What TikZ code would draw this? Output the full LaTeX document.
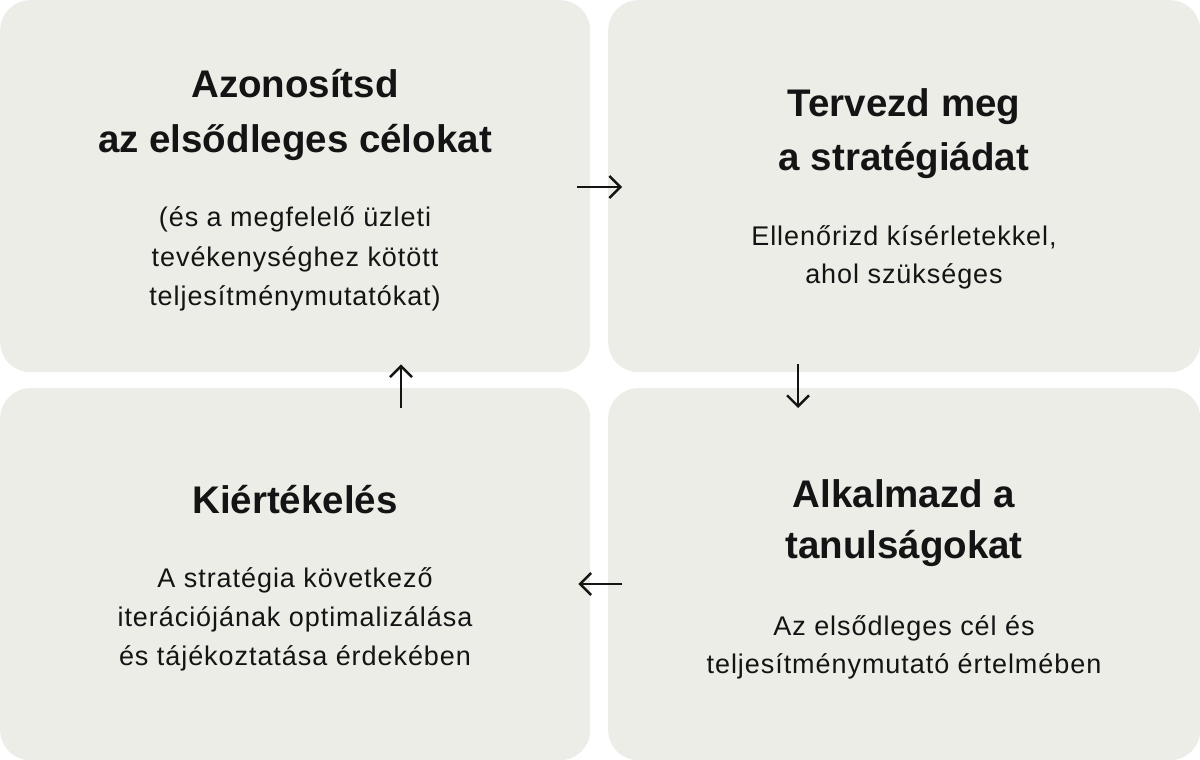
\documentclass[tikz,border=0pt]{standalone}
\usepackage{fontspec}
\setmainfont{Liberation Sans}
\newfontfamily\bodyfont[LetterSpace=3.5]{Liberation Sans}
\usetikzlibrary{arrows.meta,calc}
\definecolor{boxfill}{RGB}{237,237,232}
\definecolor{ink}{RGB}{20,20,20}
\tikzset{
  box/.style={fill=boxfill, draw=none, rounded corners=30pt, minimum width=590pt, minimum height=372pt, inner sep=0pt, anchor=north west},
  boxr/.style={box, minimum width=592pt},
  ttl/.style={anchor=base, inner sep=0pt, text=ink, font=\fontsize{38.5}{46}\selectfont\bfseries},
  bdy/.style={anchor=base, inner sep=0pt, text=ink, font=\bodyfont\fontsize{27}{32}\selectfont},
  arr/.style={draw=ink, line width=2.4pt, -{Straight Barb[length=11pt,width=22pt,line width=2.4pt]}},
}
\begin{document}
\begin{tikzpicture}[x=1pt,y=-1pt]
\useasboundingbox (0,0) rectangle (1200,760);
% boxes
\node[box] (tl) at (0,0) {};
\node[boxr] (tr) at (608,0) {};
\node[box] (bl) at (0,388) {};
\node[boxr] (br) at (608,388) {};
% top-left
\node[ttl] (tl1) at (295,97) {Azonosítsd};
\node[ttl] (tl2) at (295,152) {az elsődleges célokat};
\node[bdy] (tlb1) at (295,226) {(és a megfelelő üzleti};
\node[bdy] (tlb2) at (295,266) {tevékenységhez kötött};
\node[bdy] (tlb3) at (295,305) {teljesítménymutatókat)};
% top-right
\node[ttl] (tr1) at (904,117) {Tervezd meg};
\node[ttl] (tr2) at (904,170) {a stratégiádat};
\node[bdy] (trb1) at (904,245) {Ellenőrizd kísérletekkel,};
\node[bdy] (trb2) at (904,283) {ahol szükséges};
% bottom-right
\node[ttl] (br1) at (904,507) {Alkalmazd a};
\node[ttl] (br2) at (904,558) {tanulságokat};
\node[bdy] (brb1) at (904,635) {Az elsődleges cél és};
\node[bdy] (brb2) at (904,673) {teljesítménymutató értelmében};
% bottom-left
\node[ttl] (bl1) at (295,513) {Kiértékelés};
\node[bdy] (blb1) at (295,587) {A stratégia következő};
\node[bdy] (blb2) at (295,626) {iterációjának optimalizálása};
\node[bdy] (blb3) at (295,665) {és tájékoztatása érdekében};
% connector end points
\coordinate (a1s) at ($(tl.north east)+(-13,187)$);
\coordinate (a1e) at ($(tr.north west)+(14,187)$);
\coordinate (a2s) at ($(tr.south west)+(190,-8)$);
\coordinate (a2e) at ($(br.north west)+(190,20)$);
\coordinate (a3s) at ($(br.north west)+(14,196)$);
\coordinate (a3e) at ($(bl.north east)+(-12,196)$);
\coordinate (a4s) at ($(bl.north west)+(401,20)$);
\coordinate (a4e) at ($(tl.south west)+(401,-8)$);
\draw[arr] (a1s) -- (a1e);
\draw[arr] (a2s) -- (a2e);
\draw[arr] (a3s) -- (a3e);
\draw[arr] (a4s) -- (a4e);
\end{tikzpicture}
\end{document}
